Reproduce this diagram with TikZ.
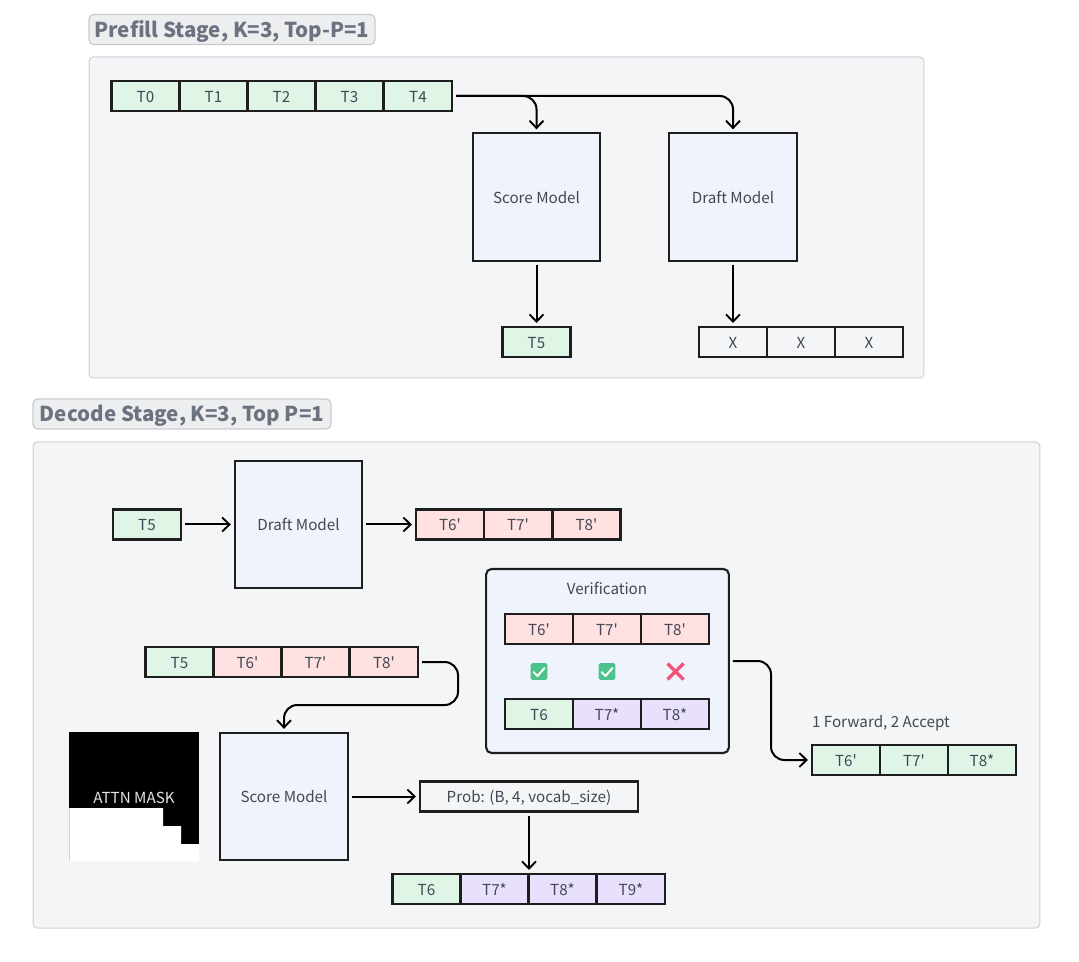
\documentclass[tikz,border=0pt]{standalone}
\usepackage{fontspec}
\setmainfont{Noto Sans CJK SC}
\newfontfamily\rawfont{Noto Sans CJK SC}
\newcommand{\prm}{{\rawfont'}}
\usetikzlibrary{arrows.meta}
\definecolor{panelbg}{HTML}{F4F5F7}
\definecolor{panelln}{HTML}{CDD0D5}
\definecolor{badgebg}{HTML}{EDEEF0}
\definecolor{badgeln}{HTML}{C8CBD0}
\definecolor{titletx}{HTML}{6B7280}
\definecolor{bodytx}{HTML}{414854}
\definecolor{modelbg}{HTML}{EFF3FC}
\definecolor{greenc}{HTML}{DFF5E6}
\definecolor{redc}{HTML}{FFE1E1}
\definecolor{purplec}{HTML}{E8E0FD}
\definecolor{linec}{HTML}{1E1E1E}
\definecolor{okgreen}{HTML}{4CC38A}
\definecolor{crossred}{HTML}{F4527A}
\tikzset{
  x=0.75pt,y=-0.75pt,
  base/.style={inner sep=0pt,outer sep=0pt,text=bodytx,font=\fontsize{11.4}{13}\selectfont,line width=1.6pt,draw=linec,text height=10pt,text depth=0.5pt},
  cell/.style={base,minimum width=51pt,minimum height=22.5pt},
  gc/.style={cell,fill=greenc},
  rc/.style={cell,fill=redc},
  pc/.style={cell,fill=purplec},
  wc/.style={cell,fill=panelbg},
  model/.style={base,fill=modelbg,minimum width=95.5pt,minimum height=95.5pt},
  panel/.style={draw=panelln,fill=panelbg,line width=0.75pt,rounded corners=3pt,inner sep=0pt,outer sep=0pt},
  badge/.style={draw=badgeln,fill=badgebg,line width=0.9pt,rounded corners=3.5pt,text=titletx,inner sep=0pt,outer sep=0pt,font=\fontsize{15.4}{17}\bfseries\selectfont,text height=14pt,text depth=2.5pt},
  conn/.style={draw=black,line width=1.5pt,rounded corners=10pt,-{Straight Barb[length=5.5pt,width=10.5pt,line width=1.4pt]},shorten >=3pt,shorten <=3pt},
  plain/.style={inner sep=0pt,outer sep=0pt,text=bodytx,font=\fontsize{11.4}{13}\selectfont,text height=10pt,text depth=0.5pt},
  okbox/.style={fill=okgreen,rounded corners=1.2pt,minimum size=12.5pt,inner sep=0pt,outer sep=0pt},
  tick/.style={draw=white,line width=1.5pt,line cap=round,line join=round},
  cross/.style={draw=crossred,line width=2.6pt}
}
\begin{document}
\begin{tikzpicture}
\useasboundingbox (0,0) rectangle (1079,962);
\fill[white] (0,0) rectangle (1079,962);
% panels
\node[panel,minimum width=626pt,minimum height=240.75pt] (p1) at (506.5,217.5) {};
\node[panel,minimum width=755pt,minimum height=364.5pt] (p2) at (536.5,685) {};
\node[badge,minimum width=214.5pt,minimum height=22.5pt] (b1) at (232,29.5) {Prefill Stage, K=3, Top-P=1};
\node[badge,minimum width=223.5pt,minimum height=22.5pt] (b2) at (182,414) {Decode Stage, K=3, Top P=1};
% prefill
\node[gc] (t0) at (145.5,96) {T0};
\node[gc] (t1) at (213.5,96) {T1};
\node[gc] (t2) at (281.5,96) {T2};
\node[gc] (t3) at (349.5,96) {T3};
\node[gc] (t4) at (418,96) {T4};
\node[model] (score1) at (536.5,197) {Score Model};
\node[model] (draft1) at (733,197) {Draft Model};
\node[gc] (t5a) at (536.5,342) {T5};
\node[wc] (x1) at (733,342) {X};
\node[wc] (x2) at (801,342) {X};
\node[wc] (x3) at (869,342) {X};
\draw[conn] (t4.east) -| (score1.north);
\draw[conn] (t4.east) -| (draft1.north);
\draw[conn] (score1.south) -- (t5a.north);
\draw[conn] (draft1.south) -- (x1.north);
% decode top
\node[gc] (t5b) at (147,524.5) {T5};
\node[model] (draft2) at (298.5,524.5) {Draft Model};
\node[rc] (d6) at (450,524.5) {T6\prm};
\node[rc] (d7) at (518,524.5) {T7\prm};
\node[rc] (d8) at (586.5,524.5) {T8\prm};
\draw[conn] (t5b.east) -- (draft2.west);
\draw[conn] (draft2.east) -- (d6.west);
% verification
\node[base,fill=modelbg,rounded corners=4pt,minimum width=182pt,minimum height=138pt] (ver) at (607.5,661) {};
\node[plain] (vert) at (607,588) {Verification};
\node[rc] (v6) at (539,629) {T6\prm};
\node[rc] (v7) at (607,629) {T7\prm};
\node[rc] (v8) at (675,629) {T8\prm};
\node[gc] (u6) at (539,714) {T6};
\node[pc] (u7) at (607,714) {T7*};
\node[pc] (u8) at (675,714) {T8*};
\node[okbox] (ok1) at (539,671.5) {};
\node[okbox] (ok2) at (607,671.5) {};
\draw[tick] (533.5,672) -- (537.5,676) -- (544.5,668);
\draw[tick] (601.5,672) -- (605.5,676) -- (612.5,668);
\draw[cross] (667.5,663.5) -- (683.5,679.5) (683.5,663.5) -- (667.5,679.5);
% input row
\node[gc] (r5) at (179.5,662) {T5};
\node[rc] (r6) at (247.5,662) {T6\prm};
\node[rc] (r7) at (315.5,662) {T7\prm};
\node[rc] (r8) at (384,662) {T8\prm};
% mask
\fill[black] (69,732) rectangle (199,861);
\fill[white] (69,808) -- (163,808) -- (163,826) -- (181,826) -- (181,844) -- (199,844) -- (199,861) -- (69,861) -- cycle;
\draw[panelln,line width=0.6pt] (69,808) -- (69,861);
\node[plain,text=white!90!black] (mask) at (134,797) {ATTN MASK};
\node[model] (score2) at (284,796.5) {Score Model};
\node[base,fill=panelbg,minimum width=163.5pt,minimum height=22.5pt] (prob) at (529,796.5) {Prob: (B, 4, vocab\_size)};
\node[gc] (o6) at (426.5,889) {T6};
\node[pc] (o7) at (494.5,889) {T7*};
\node[pc] (o8) at (562.5,889) {T8*};
\node[pc] (o9) at (631,889) {T9*};
\coordinate (bend1) at (458,705);
\draw[conn] (r8.east) -| (bend1) -| (score2.north);
\draw[conn] (score2.east) -- (prob.west);
\draw[conn] (prob.south) -- (prob.south |- o7.north);
% result
\node[plain,anchor=west] (res) at (812,721) {1 Forward, 2 Accept};
\node[gc] (a6) at (846,760) {T6\prm};
\node[gc] (a7) at (914,760) {T7\prm};
\node[gc] (a8) at (982,760) {T8*};
\coordinate (bend2) at (771,760);
\draw[conn] (ver.east) -| (bend2) -- (a6.west);
\end{tikzpicture}
\end{document}
